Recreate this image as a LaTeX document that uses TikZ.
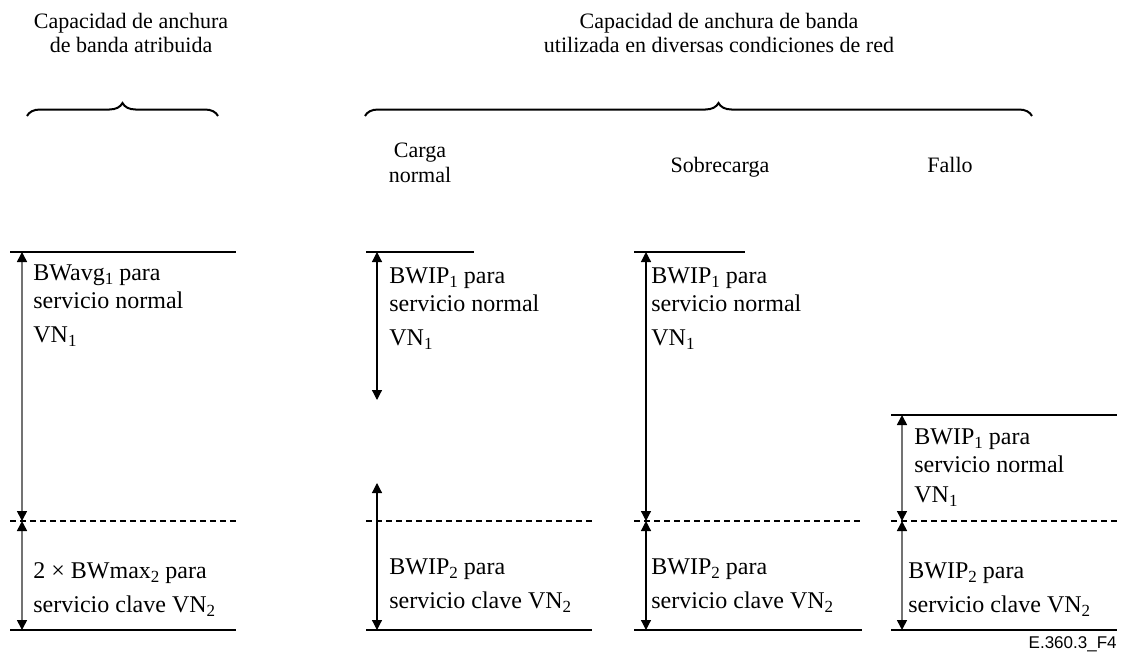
\documentclass[tikz,border=0pt]{standalone}
\usepackage{fontspec}
\setmainfont{Liberation Serif}
\newfontfamily\tagfont{Liberation Sans}
\usetikzlibrary{arrows.meta,decorations.pathreplacing}
\newcommand{\lo}[1]{\raisebox{-0.45ex}{\fontsize{8.5}{9}\selectfont #1}}

\begin{document}
\begin{tikzpicture}[x=0.5pt,y=-0.5pt,
 level/.style={line width=1pt},
 limit/.style={line width=0.7pt,dash pattern=on 3pt off 2pt},
 span/.style={line width=0.6pt,
  {Triangle[length=5pt,width=5pt,color=black]}-{Triangle[length=5pt,width=5pt,color=black]}},
 soft/.style={span,line width=0.8pt,gray!90!black},
 lbl/.style={anchor=base west,inner sep=0pt,align=left,font=\fontsize{12}{14}\selectfont},
 head/.style={anchor=base,inner sep=0pt,align=center,font=\fontsize{11}{12.5}\selectfont},
 curly/.style={line width=1pt,decorate,decoration={brace,amplitude=6.5pt,aspect=#1}},
 curly/.default=0.5]

\useasboundingbox (0,0) rectangle (1125,653);

% headings (base = last line)
\node[head] (alloc) at (131,53) {Capacidad de anchura\\de banda atribuida};
\node[head] (used) at (719,53) {Capacidad de anchura de banda\\utilizada en diversas condiciones de red};
\draw[curly] (27,116) -- (218,116);
\draw[curly=0.53] (365,116) -- (1032,116);
\node[head] (normal) at (420,182) {Carga\\normal};
\node[head] (over) at (720,172) {Sobrecarga};
\node[head] (fail) at (950,172) {Fallo};

\begin{scope}[shift={(10,0)}] %attributed
 \draw[level] (0,252) -- (226,252);
 \draw[limit] (0,521) -- (226,521);
 \draw[level] (0,630) -- (226,630);
 \coordinate (a1) at (12,252);
 \coordinate (a2) at (12,521);
 \coordinate (a3) at (12,630);
 \draw[soft] (a1) -- (a2);
 \draw[soft] (a2) -- (a3);
 \node[lbl] (avg1) at (23,342) {BWavg\lo{1} para\\servicio normal\\[3pt]VN\lo{1}};
 \node[lbl] (max2) at (23,612) {2 × BWmax\lo{2} para\\[3pt]servicio clave VN\lo{2}};
\end{scope}

\begin{scope}[shift={(366,0)}] %normal load
 \draw[level] (0,252) -- (108,252);
 \draw[limit] (0,521) -- (226,521);
 \draw[level] (0,630) -- (226,630);
 \coordinate (n1) at (11,252);
 \coordinate (n2) at (11,400);
 \coordinate (n3) at (11,483);
 \coordinate (n4) at (11,630);
 \draw[span] (n1) -- (n2);
 \draw[span] (n3) -- (n4);
 \node[lbl] (nip1) at (23,345) {BWIP\lo{1} para\\servicio normal\\[3pt]VN\lo{1}};
 \node[lbl] (nip2) at (23,608) {BWIP\lo{2} para\\[3pt]servicio clave VN\lo{2}};
\end{scope}

\begin{scope}[shift={(634,0)}] %overload
 \draw[level] (0,252) -- (111,252);
 \draw[limit] (0,521) -- (228,521);
 \draw[level] (0,630) -- (228,630);
 \coordinate (s1) at (12,252);
 \coordinate (s2) at (12,521);
 \coordinate (s3) at (12,630);
 \draw[span] (s1) -- (s2);
 \draw[span] (s2) -- (s3);
 \node[lbl] (sip1) at (17,345) {BWIP\lo{1} para\\servicio normal\\[3pt]VN\lo{1}};
 \node[lbl] (sip2) at (17,608) {BWIP\lo{2} para\\[3pt]servicio clave VN\lo{2}};
\end{scope}

\begin{scope}[shift={(891,0)}] %failure
 \draw[level] (0,415) -- (226,415);
 \draw[limit] (0,521) -- (226,521);
 \draw[level] (0,630) -- (226,630);
 \coordinate (f1) at (11,415);
 \coordinate (f2) at (11,521);
 \coordinate (f3) at (11,630);
 \draw[soft] (f1) -- (f2);
 \draw[soft] (f2) -- (f3);
 \node[lbl] (fip1) at (23,502) {BWIP\lo{1} para\\servicio normal\\[1pt]VN\lo{1}};
 \node[lbl] (fip2) at (17,612) {BWIP\lo{2} para\\[3pt]servicio clave VN\lo{2}};
\end{scope}

\node[anchor=base east,inner sep=0pt,font=\tagfont\fontsize{8.5}{10}\selectfont] (tag) at (1117,648) {E.360.3\_F4};

\end{tikzpicture}
\end{document}
